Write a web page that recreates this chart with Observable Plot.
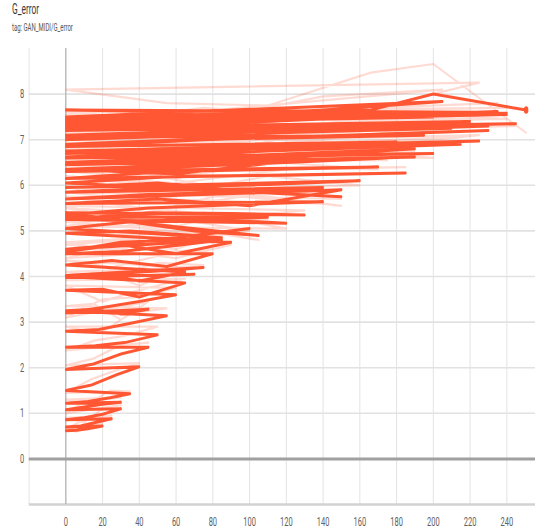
<!DOCTYPE html>
<html>
<head>
<meta charset="utf-8">
<script src="https://cdn.jsdelivr.net/npm/d3@7"></script>
<script src="https://cdn.jsdelivr.net/npm/@observablehq/plot@0.6"></script>
<style>
  html, body { margin: 0; padding: 0; background: #fff; overflow: hidden; }
  #head { position: relative; height: 40px; width: 535px; overflow: hidden; }
  #head .inner { position: absolute; left: 12px; top: 1px; transform: scaleX(0.6); transform-origin: 0 0; white-space: nowrap; font-family: Roboto, "Noto Sans", sans-serif; }
  #head .t { font-size: 14px; line-height: 17px; color: #3a3a3a; }
  #head .s { font-size: 10px; line-height: 13px; color: #555; margin-top: 3px; }
</style>
</head>
<body>
<div id="head"><div class="inner"><div class="t">G_error</div><div class="s">tag: GAN_MIDI/G_error</div></div></div>
<div id="chart"></div>
<script>
// one row per sweep of steps
const step = [
  0, 6, 12, 20,
  0, 8, 16, 25,
  0, 10, 20, 30,
  0, 10, 20, 30,
  0, 12, 24, 35,
  0, 14, 28, 40,
  0, 15, 30, 45,
  0, 16, 32, 50,
  0, 18, 36, 55,
  0, 15, 30, 45,
  0, 20, 40, 60,
  0, 20, 40, 65,
  0, 25, 50, 70,
  0, 25, 50, 75,
  0, 20, 40, 65,
  0, 25, 55, 80,
  0, 30, 60, 85,
  0, 30, 60, 90,
  0, 35, 70, 100,
  0, 30, 60, 85,
  0, 35, 75, 110,
  0, 40, 80, 120,
  0, 45, 90, 130,
  0, 35, 70, 105,
  0, 45, 95, 140,
  0, 50, 100, 150,
  0, 45, 90, 140,
  0, 55, 110, 160,
  0, 50, 100, 150,
  0, 60, 120, 185,
  0, 55, 115, 170,
  0, 60, 120, 175,
  0, 60, 125, 190,
  0, 65, 130, 190,
  0, 70, 135, 200,
  0, 70, 145, 215,
  0, 70, 140, 210,
  0, 75, 150, 225,
  0, 60, 120, 180,
  0, 75, 155, 230,
  0, 65, 130, 195,
  0, 75, 150, 230,
  0, 70, 140, 210,
  0, 80, 165, 245,
  0, 75, 150, 220,
  0, 80, 165, 235,
  0, 65, 135, 200,
  0, 80, 160, 240,
  0, 80, 160, 240,
  0, 70, 140, 205,
  0, 75, 150, 225,
  0, 55, 110, 166, 200, 250.5
];
const smoothed = [
  0.62, 0.63, 0.66, 0.72,
  0.70, 0.72, 0.80, 0.88,
  0.86, 0.90, 0.98, 1.10,
  1.08, 1.14, 1.20, 1.24,
  1.22, 1.26, 1.34, 1.43,
  1.50, 1.62, 1.85, 2.02,
  1.96, 2.08, 2.30, 2.45,
  2.45, 2.48, 2.55, 2.72,
  2.80, 2.84, 2.98, 3.14,
  3.25, 3.28, 3.18, 3.28,
  3.20, 3.32, 3.45, 3.60,
  3.70, 3.72, 3.55, 3.86,
  4.00, 4.02, 4.03, 4.05,
  3.98, 4.06, 4.12, 4.20,
  4.02, 4.04, 3.90, 4.10,
  4.25, 4.35, 4.22, 4.50,
  4.50, 4.55, 4.68, 4.80,
  4.60, 4.70, 4.50, 4.75,
  4.95, 5.00, 4.90, 5.05,
  4.55, 4.75, 4.80, 4.85,
  5.05, 5.20, 5.25, 5.30,
  5.30, 5.32, 5.25, 5.17,
  5.25, 5.40, 5.38, 5.35,
  5.40, 5.20, 5.00, 4.90,
  5.35, 5.50, 5.58, 5.64,
  5.60, 5.70, 5.55, 5.90,
  5.70, 5.80, 5.85, 5.95,
  5.85, 5.95, 6.02, 6.10,
  5.95, 6.05, 5.85, 5.75,
  6.05, 6.20, 6.22, 6.27,
  6.15, 6.30, 6.35, 6.40,
  6.30, 6.40, 6.50, 6.60,
  6.35, 6.25, 6.55, 6.62,
  6.45, 6.55, 6.65, 6.80,
  6.50, 6.45, 6.65, 6.70,
  6.60, 6.70, 6.80, 6.90,
  6.62, 6.75, 6.85, 6.92,
  6.70, 6.80, 6.88, 6.97,
  6.75, 6.60, 6.80, 6.95,
  6.85, 7.00, 7.10, 7.20,
  6.90, 7.00, 7.05, 7.10,
  7.05, 7.15, 7.25, 7.30,
  7.00, 7.10, 7.18, 7.25,
  7.10, 7.20, 7.28, 7.35,
  7.20, 7.25, 7.32, 7.40,
  7.25, 7.35, 7.50, 7.62,
  7.30, 7.40, 7.45, 7.50,
  7.40, 7.45, 7.50, 7.55,
  7.35, 7.45, 7.52, 7.58,
  7.45, 7.50, 7.65, 7.84,
  7.50, 7.55, 7.58, 7.60,
  7.65, 7.62, 7.63, 7.65, 8.00, 7.65
];
const raw = [
  0.64, 0.60, 0.75, 0.78,
  0.66, 0.82, 0.92, 0.95,
  0.90, 0.80, 1.10, 1.18,
  1.00, 1.25, 1.30, 1.35,
  1.30, 1.20, 1.50, 1.48,
  1.45, 1.75, 1.95, 2.10,
  2.05, 2.20, 2.50, 2.55,
  2.38, 2.60, 2.70, 2.90,
  2.90, 2.75, 3.20, 3.30,
  3.35, 3.40, 3.05, 3.45,
  3.10, 3.50, 3.55, 3.75,
  3.80, 3.45, 3.70, 3.95,
  3.92, 4.15, 3.95, 4.20,
  4.10, 4.00, 4.30, 4.25,
  3.95, 4.12, 3.80, 4.20,
  4.35, 4.20, 4.50, 4.60,
  4.40, 4.70, 4.60, 4.95,
  4.75, 4.55, 4.40, 4.70,
  5.05, 4.85, 5.20, 5.00,
  4.70, 4.60, 4.95, 4.90,
  5.20, 5.10, 5.40, 5.25,
  5.40, 5.20, 5.35, 5.05,
  5.10, 5.50, 5.30, 5.45,
  5.55, 5.15, 5.05, 4.80,
  5.50, 5.40, 5.75, 5.60,
  5.75, 5.45, 5.95, 5.70,
  5.85, 5.65, 6.00, 5.80,
  6.00, 5.80, 6.20, 6.00,
  5.85, 6.20, 5.80, 5.55,
  6.20, 6.05, 6.35, 6.40,
  6.30, 6.15, 6.50, 6.35,
  6.45, 6.25, 6.65, 6.55,
  6.50, 6.15, 6.70, 6.75,
  6.30, 6.70, 6.60, 6.95,
  6.65, 6.35, 6.80, 6.60,
  6.75, 6.55, 6.95, 7.05,
  6.48, 6.90, 6.75, 7.05,
  6.55, 6.95, 6.80, 7.10,
  6.90, 6.50, 7.05, 6.85,
  7.00, 6.85, 7.25, 7.35,
  6.80, 7.15, 6.95, 7.25,
  7.20, 7.00, 7.40, 7.45,
  7.15, 6.95, 7.35, 7.20,
  7.25, 7.05, 7.45, 7.30,
  7.05, 7.40, 7.25, 7.55,
  7.40, 7.20, 7.70, 7.80,
  7.45, 7.25, 7.60, 7.40,
  7.55, 7.35, 7.65, 7.45,
  7.50, 7.30, 7.65, 7.70,
  7.60, 7.40, 7.95, 8.10,
  7.35, 7.70, 7.50, 8.25,
  8.10, 7.80, 7.75, 8.47, 8.66, 7.15
];
const xTicks = [0, 20, 40, 60, 80, 100, 120, 140, 160, 180, 200, 220, 240];
const xGrid = [-20, 0, 20, 40, 60, 80, 100, 120, 140, 160, 180, 200, 220, 240];
const yTicks = [0, 1, 2, 3, 4, 5, 6, 7, 8];
const yGrid = [1, 2, 3, 4, 5, 6, 7, 8];

const color = "#ff5733";
const data = step.map((s, i) => ({step: s, raw: raw[i], smoothed: smoothed[i]}));
const last = [data[data.length - 1]];

const W = 892, H = 491;
const chart = Plot.plot({
  width: W,
  height: H,
  marginLeft: 48,
  marginRight: 0,
  marginTop: 8,
  marginBottom: 27,
  style: {fontFamily: "Roboto, 'Noto Sans', sans-serif", fontSize: "12.5px", color: "#616161", background: "#fff"},
  x: {domain: [-20, 255.5], label: null},
  y: {domain: [-1, 9], label: null},
  marks: [
    Plot.ruleX(xGrid, {stroke: "#e4e4e4", strokeWidth: 1.7}),
    Plot.ruleY(yGrid, {stroke: "#e2e2e2", strokeWidth: 1.6}),
    Plot.ruleY([-1], {stroke: "#d2d2d2", strokeWidth: 2.6}),
    Plot.ruleX([0], {stroke: "#a8a8a8", strokeWidth: 1.7}),
    Plot.line(data, {x: "step", y: "raw", stroke: color, strokeOpacity: 0.22, strokeWidth: 2.2}),
    Plot.line(data, {x: "step", y: "smoothed", stroke: color, strokeWidth: 3}),
    Plot.ruleY([0], {stroke: "#a0a0a0", strokeWidth: 3}),
    Plot.dot(last, {x: "step", y: "smoothed", r: 3.8, fill: color, stroke: "none"}),
    Plot.axisX({ticks: xTicks, tickSize: 0, tickPadding: 13, tickFormat: d => String(d), label: null}),
    Plot.axisY({ticks: yTicks, tickSize: 0, tickPadding: 8, tickFormat: d => String(d), label: null})
  ]
});
chart.setAttribute("width", 535);
chart.setAttribute("height", H);
chart.setAttribute("preserveAspectRatio", "none");
chart.setAttribute("style", "display:block;width:535px;height:" + H + "px;max-width:none;overflow:hidden;background:#fff;font-family:Roboto,'Noto Sans',sans-serif;font-size:12.5px;color:#616161");
document.getElementById("chart").appendChild(chart);
</script>
</body>
</html>
